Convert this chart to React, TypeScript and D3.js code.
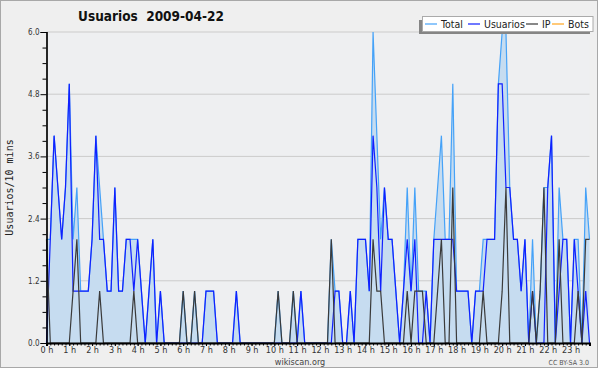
import React, { useEffect, useRef } from 'react';
import * as d3 from 'd3';

const width = 600;
const height = 370;
const margin = { top: 32, right: 10.5, bottom: 27, left: 46.5 };
const font = '"DejaVu Sans Condensed", "DejaVu Sans", sans-serif';

const totalColor = '#45a2f8';
const areaColor = '#c6dcf0';
const userColor = '#1020ff';
const ipColor = '#3a3a3a';
const botColor = '#ffa51f';

// one value per 10 minutes, 00:00 .. 23:50
const total = [
  2, 2, 4, 3, 2, 3, 5, 2, 3, 1, 1, 1,
  2, 4, 3, 2, 1, 1, 3, 1, 1, 2, 2, 2,
  2, 1, 0, 1, 2, 0, 1, 0, 0, 0, 0, 0,
  1, 0, 0, 1, 0, 0, 1, 1, 1, 0, 0, 0,
  0, 0, 1, 0, 0, 0, 0, 0, 0, 0, 0, 0,
  0, 1, 0, 0, 0, 1, 0, 1, 0, 0, 0, 0,
  0, 0, 0, 2, 1, 1, 0, 0, 1, 0, 2, 2,
  2, 1, 6, 4, 2, 3, 2, 2, 1, 0, 1, 3,
  1, 3, 1, 1, 1, 0, 2, 3, 4, 2, 2, 5,
  1, 1, 1, 1, 0, 1, 1, 2, 2, 2, 2, 5,
  6, 6, 3, 2, 2, 1, 2, 0, 2, 0, 1, 3,
  3, 4, 0, 3, 2, 2, 0, 2, 2, 0, 3, 2,
];

const usuarios = [
  0, 2, 4, 3, 2, 3, 5, 1, 1, 1, 1, 1,
  2, 4, 2, 2, 1, 1, 3, 1, 1, 2, 2, 1,
  2, 1, 0, 1, 2, 0, 1, 0, 0, 0, 0, 0,
  0, 0, 0, 0, 0, 0, 1, 1, 1, 0, 0, 0,
  0, 0, 1, 0, 0, 0, 0, 0, 0, 0, 0, 0,
  0, 0, 0, 0, 0, 0, 0, 1, 0, 0, 0, 0,
  0, 0, 0, 0, 1, 1, 0, 0, 1, 0, 2, 2,
  2, 1, 4, 3, 1, 3, 2, 2, 1, 0, 1, 2,
  1, 2, 0, 0, 1, 0, 2, 2, 2, 2, 2, 2,
  1, 1, 1, 1, 0, 1, 1, 1, 2, 2, 2, 5,
  5, 3, 3, 2, 2, 1, 2, 0, 1, 0, 0, 0,
  3, 4, 0, 1, 2, 2, 0, 2, 1, 0, 1, 0,
];

const ip = [
  2, 0, 0, 0, 0, 0, 0, 1, 2, 0, 0, 0,
  0, 0, 1, 0, 0, 0, 0, 0, 0, 0, 0, 1,
  0, 0, 0, 0, 0, 0, 0, 0, 0, 0, 0, 0,
  1, 0, 0, 1, 0, 0, 0, 0, 0, 0, 0, 0,
  0, 0, 0, 0, 0, 0, 0, 0, 0, 0, 0, 0,
  0, 1, 0, 0, 0, 1, 0, 0, 0, 0, 0, 0,
  0, 0, 0, 2, 0, 0, 0, 0, 0, 0, 0, 0,
  0, 0, 2, 1, 1, 0, 0, 0, 0, 0, 0, 1,
  0, 1, 1, 1, 0, 0, 0, 1, 2, 0, 0, 3,
  0, 0, 0, 0, 0, 0, 0, 1, 0, 0, 0, 0,
  1, 3, 0, 0, 0, 0, 0, 0, 1, 0, 1, 3,
  0, 0, 0, 2, 0, 0, 0, 0, 1, 0, 2, 2,
];

const bots = [
  0, 0, 0, 0, 0, 0, 0, 0, 0, 0, 0, 0,
  0, 0, 0, 0, 0, 0, 0, 0, 0, 0, 0, 0,
  0, 0, 0, 0, 0, 0, 0, 0, 0, 0, 0, 0,
  0, 0, 0, 0, 0, 0, 0, 0, 0, 0, 0, 0,
  0, 0, 0, 0, 0, 0, 0, 0, 0, 0, 0, 0,
  0, 0, 0, 0, 0, 0, 0, 0, 0, 0, 0, 0,
  0, 0, 0, 0, 0, 0, 0, 0, 0, 0, 0, 0,
  0, 0, 0, 0, 0, 0, 0, 0, 0, 0, 0, 0,
  0, 0, 0, 0, 0, 0, 0, 0, 0, 0, 0, 0,
  0, 0, 0, 0, 0, 0, 0, 0, 0, 0, 0, 0,
  0, 0, 0, 0, 0, 0, 0, 0, 0, 0, 0, 0,
  0, 0, 0, 0, 0, 0, 0, 0, 0, 0, 0, 0,
];

const hourLabels = [
  '0 h', '1 h', '2 h', '3 h', '4 h', '5 h', '6 h', '7 h', '8 h', '9 h', '10 h', '11 h',
  '12 h', '13 h', '14 h', '15 h', '16 h', '17 h', '18 h', '19 h', '20 h', '21 h', '22 h', '23 h',
];
const yTicks = [0, 1.2, 2.4, 3.6, 4.8, 6.0];
const yMinorTicks = [0.3, 0.6, 0.9, 1.5, 1.8, 2.1, 2.7, 3.0, 3.3, 3.9, 4.2, 4.5, 5.1, 5.4, 5.7];

const legendItems = ['Total', 'Usuarios', 'IP', 'Bots'];
const legendColors = [totalColor, userColor, ipColor, botColor];
const legendX = [425, 468, 526, 552];

const xScale = d3.scaleLinear().domain([0, total.length - 1]).range([margin.left, width - margin.right]);
const yScale = d3.scaleLinear().domain([0, 6]).range([height - margin.bottom, margin.top]);

export default function App() {
  const xAxisRef = useRef<SVGGElement>(null);
  const xMinorRef = useRef<SVGGElement>(null);
  const yAxisRef = useRef<SVGGElement>(null);
  const yMinorRef = useRef<SVGGElement>(null);

  useEffect(() => {
    const xAxis = d3.axisBottom(xScale)
      .tickValues(hourLabels.map((_, i) => i * 6))
      .tickFormat((d) => hourLabels[(d as number) / 6])
      .tickSize(3)
      .tickPadding(1);
    const xMinor = d3.axisBottom(xScale).tickValues(total.map((_, i) => i)).tickSize(2.5).tickFormat(() => '');
    const yAxis = d3.axisLeft(yScale).tickValues(yTicks).tickFormat(d3.format('.1f')).tickSize(6).tickPadding(1);
    const yMinor = d3.axisLeft(yScale).tickValues(yMinorTicks).tickSize(4).tickFormat(() => '');

    d3.select(xMinorRef.current!).call(xMinor);
    d3.select(xAxisRef.current!).call(xAxis);
    d3.select(yMinorRef.current!).call(yMinor);
    d3.select(yAxisRef.current!).call(yAxis);

    [xAxisRef, xMinorRef, yAxisRef, yMinorRef].forEach((r) => {
      const g = d3.select(r.current!);
      g.attr('font-family', font).attr('font-size', 9);
      g.selectAll('path.domain').attr('stroke', '#000').attr('stroke-width', 1.2);
      g.selectAll('line').attr('stroke', '#000');
      g.selectAll('text').attr('fill', '#333');
    });
    // thicker baseline, it also hides the flat bots line
    d3.select(xAxisRef.current!).select('path.domain').attr('stroke-width', 2);
    d3.select(yAxisRef.current!).attr('font-size', 8);
  }, []);

  const idx = total.map((_, i) => i);
  const lineOf = (vals: number[]) => d3.line<number>().x((i) => xScale(i)).y((i) => yScale(vals[i]))(idx) || '';
  const area = d3.area<number>().x((i) => xScale(i)).y0(yScale(0)).y1((i) => yScale(total[i]))(idx) || '';

  const plotW = width - margin.left - margin.right;
  const plotH = height - margin.top - margin.bottom;

  return (
    <svg width={width} height={height} style={{ position: 'absolute', left: 0, top: 0 }}>
      <rect x={0.5} y={0.5} width={597} height={367} fill="#efefef" stroke="#a8a8a8" strokeWidth={1} />
      <rect x={margin.left} y={margin.top} width={plotW} height={plotH} fill="#eeeff1" />
      {yTicks.slice(1).map((t) => (
        <line key={t} x1={margin.left} x2={width - margin.right} y1={yScale(t)} y2={yScale(t)} stroke="#cbcbcb" strokeWidth={1} />
      ))}
      <path d={lineOf(bots)} fill="none" stroke={botColor} strokeWidth={1} />
      <path d={area} fill={areaColor} />
      <path d={lineOf(total)} fill="none" stroke={totalColor} strokeWidth={1.2} />
      <path d={lineOf(usuarios)} fill="none" stroke={userColor} strokeWidth={1.2} />
      <path d={lineOf(ip)} fill="none" stroke={ipColor} strokeWidth={1.2} />

      <g ref={xMinorRef} transform={`translate(0, ${yScale(0)})`} />
      <g ref={xAxisRef} transform={`translate(0, ${yScale(0)})`} />
      <g ref={yMinorRef} transform={`translate(${margin.left}, 0)`} />
      <g ref={yAxisRef} transform={`translate(${margin.left}, 0)`} />

      <text x={151} y={21} textAnchor="middle" fontFamily={font} fontWeight="bold" fontSize={13.5} fill="#111" style={{ whiteSpace: 'pre' }}>
        {'Usuarios  2009-04-22'}
      </text>
      <text transform={`translate(13, ${(margin.top + yScale(0)) / 2}) rotate(-90)`} textAnchor="middle"
        fontFamily='"DejaVu Sans Mono", monospace' fontSize={10} fill="#222">
        Usuarios/10 mins
      </text>

      <g>
        <rect x={419} y={20} width={171} height={14} fill="#858585" />
        <rect x={422.5} y={16.5} width={170.5} height={15} fill="#fff" stroke="#aaa" strokeWidth={1} />
        {legendItems.map((name, i) => (
          <g key={name}>
            <line x1={legendX[i]} x2={legendX[i] + 12} y1={24} y2={24} stroke={legendColors[i]} strokeWidth={1.2} />
            <text x={legendX[i] + 16} y={27.5} fontFamily={font} fontSize={10.5} fill="#222">{name}</text>
          </g>
        ))}
      </g>

      <text x={300} y={365} textAnchor="middle" fontFamily={font} fontSize={9} fill="#444">wikiscan.org</text>
      <text x={589} y={365} textAnchor="end" fontFamily={font} fontSize={7} fill="#555">CC BY-SA 3.0</text>
    </svg>
  );
}
